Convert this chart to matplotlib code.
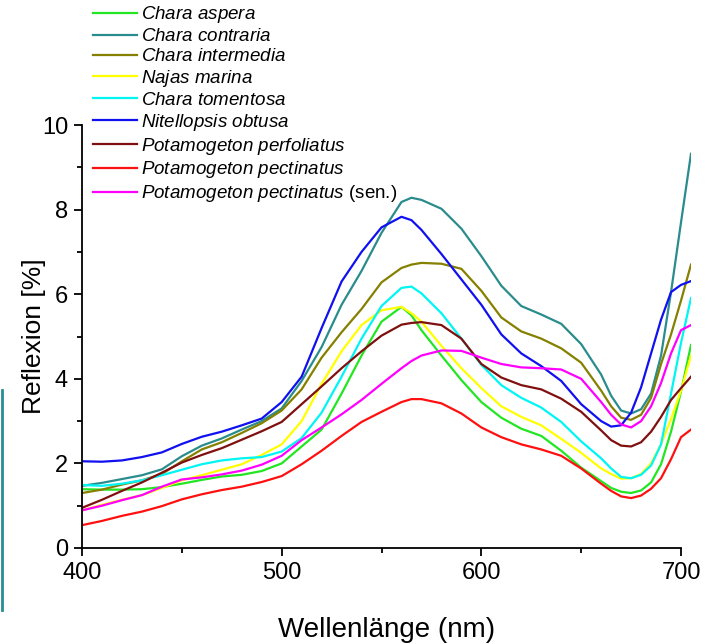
import matplotlib

matplotlib.use("Agg")
import matplotlib.pyplot as plt
from matplotlib.lines import Line2D
from matplotlib.ticker import MultipleLocator

plt.rcParams["font.family"] = ["Liberation Sans", "DejaVu Sans"]
plt.rcParams["mathtext.fontset"] = "custom"
plt.rcParams["mathtext.rm"] = "Liberation Sans"
plt.rcParams["mathtext.it"] = "Liberation Sans:italic"

# wavelength grid (nm) and reflectance (%)
wl = [400, 410, 420, 430, 440, 450, 460, 470, 480, 490, 500, 510, 520, 530, 540,
      550, 560, 565, 570, 580, 590, 600, 610, 620, 630, 640, 650, 660, 665, 670,
      675, 680, 685, 690, 695, 700, 705]

chara_aspera = [1.39, 1.38, 1.38, 1.39, 1.44, 1.52, 1.61, 1.69, 1.73, 1.82, 2.00,
                2.40, 2.80, 3.65, 4.55, 5.35, 5.70, 5.50, 5.15, 4.55, 3.97, 3.45,
                3.08, 2.82, 2.65, 2.30, 1.90, 1.58, 1.42, 1.33, 1.30, 1.36, 1.55,
                1.98, 2.75, 3.70, 4.80]
chara_contraria = [1.47, 1.54, 1.63, 1.72, 1.86, 2.17, 2.42, 2.59, 2.80, 3.00, 3.30,
                   3.95, 4.75, 5.75, 6.55, 7.45, 8.18, 8.28, 8.23, 8.02, 7.55, 6.90,
                   6.20, 5.72, 5.52, 5.30, 4.82, 4.10, 3.60, 3.25, 3.18, 3.28, 3.65,
                   4.55, 6.05, 7.70, 9.32]
chara_intermedia = [1.30, 1.38, 1.50, 1.60, 1.75, 2.05, 2.33, 2.50, 2.72, 2.95, 3.25,
                    3.75, 4.50, 5.10, 5.65, 6.28, 6.62, 6.70, 6.74, 6.72, 6.60, 6.08,
                    5.45, 5.12, 4.95, 4.72, 4.38, 3.72, 3.35, 3.08, 3.03, 3.15, 3.55,
                    4.35, 5.05, 5.85, 6.70]
najas_marina = [0.89, 1.02, 1.14, 1.25, 1.42, 1.60, 1.72, 1.85, 1.98, 2.20, 2.45,
                3.00, 3.88, 4.65, 5.27, 5.62, 5.70, 5.55, 5.35, 4.78, 4.25, 3.78,
                3.35, 3.10, 2.90, 2.58, 2.25, 1.88, 1.75, 1.64, 1.65, 1.75, 2.00,
                2.45, 3.05, 3.72, 4.55]
chara_tomentosa = [1.49, 1.47, 1.52, 1.60, 1.72, 1.85, 1.98, 2.07, 2.12, 2.15, 2.28,
                   2.60, 3.20, 4.05, 4.95, 5.72, 6.15, 6.18, 6.02, 5.55, 4.95, 4.33,
                   3.85, 3.55, 3.32, 2.98, 2.52, 2.12, 1.88, 1.68, 1.65, 1.73, 1.95,
                   2.45, 3.65, 4.85, 5.91]
nitellopsis_obtusa = [2.05, 2.04, 2.07, 2.15, 2.26, 2.46, 2.63, 2.75, 2.90, 3.06, 3.45,
                      4.05, 5.20, 6.30, 7.00, 7.58, 7.83, 7.75, 7.52, 6.95, 6.35, 5.75,
                      5.05, 4.60, 4.30, 3.95, 3.40, 3.00, 2.87, 2.90, 3.20, 3.80, 4.60,
                      5.40, 6.05, 6.22, 6.31]
pot_perfoliatus = [0.95, 1.14, 1.35, 1.55, 1.78, 2.02, 2.20, 2.36, 2.56, 2.76, 2.98,
                   3.40, 3.82, 4.25, 4.65, 5.02, 5.28, 5.32, 5.34, 5.27, 4.95, 4.35,
                   4.03, 3.85, 3.75, 3.53, 3.22, 2.78, 2.55, 2.42, 2.40, 2.50, 2.75,
                   3.10, 3.50, 3.78, 4.05]
pot_pectinatus = [0.54, 0.64, 0.76, 0.86, 0.99, 1.15, 1.27, 1.37, 1.45, 1.56, 1.70,
                  1.98, 2.30, 2.65, 2.98, 3.22, 3.45, 3.52, 3.52, 3.42, 3.18, 2.85,
                  2.62, 2.45, 2.33, 2.18, 1.88, 1.52, 1.35, 1.22, 1.18, 1.24, 1.40,
                  1.65, 2.10, 2.62, 2.80]
pot_pectinatus_sen = [0.89, 1.00, 1.13, 1.25, 1.45, 1.62, 1.67, 1.74, 1.83, 1.97, 2.18,
                      2.55, 2.85, 3.16, 3.50, 3.88, 4.25, 4.42, 4.55, 4.67, 4.66, 4.50,
                      4.35, 4.27, 4.25, 4.22, 4.00, 3.45, 3.15, 2.92, 2.85, 3.00, 3.35,
                      3.90, 4.60, 5.15, 5.27]

series = [
    (r"$\it{Chara\ aspera}$", chara_aspera, "#22e622"),
    (r"$\it{Chara\ contraria}$", chara_contraria, "#2a8c8c"),
    (r"$\it{Chara\ intermedia}$", chara_intermedia, "#858000"),
    (r"$\it{Najas\ marina}$", najas_marina, "#ffff00"),
    (r"$\it{Chara\ tomentosa}$", chara_tomentosa, "#00f5f5"),
    (r"$\it{Nitellopsis\ obtusa}$", nitellopsis_obtusa, "#1010f0"),
    (r"$\it{Potamogeton\ perfoliatus}$", pot_perfoliatus, "#801010"),
    (r"$\it{Potamogeton\ pectinatus}$", pot_pectinatus, "#ff1010"),
    (r"$\it{Potamogeton\ pectinatus}$ (sen.)", pot_pectinatus_sen, "#ff00ff"),
]

fig = plt.figure(figsize=(7.05, 6.44), dpi=100)
ax = fig.add_axes([82 / 705, 96 / 644, 609 / 705, 423 / 644])

for label, vals, col in series:
    ax.plot(wl, vals, color=col, lw=1.6, label=label)

ax.set_xlim(400, 705)
ax.set_ylim(0, 10)
ax.spines["top"].set_visible(False)
ax.spines["right"].set_visible(False)
ax.spines["bottom"].set_bounds(400, 700)
ax.spines["left"].set_linewidth(1.3)
ax.spines["bottom"].set_linewidth(1.3)
ax.set_xticks([400, 500, 600, 700])
ax.xaxis.set_minor_locator(MultipleLocator(50))
ax.yaxis.set_major_locator(MultipleLocator(2))
ax.yaxis.set_minor_locator(MultipleLocator(1))
ax.tick_params(which="major", length=6, width=1.3, labelsize=17, pad=4)
ax.tick_params(which="minor", length=3.5, width=1.3)

ax.set_xlabel("Wellenlänge (nm)", fontsize=20, labelpad=24)
ax.set_ylabel("Reflexion [%]", fontsize=19, labelpad=-3)

ax.legend(loc="upper left", bbox_to_anchor=(84 / 705, 1 + 5 / 644),
          bbox_transform=fig.transFigure, frameon=False, fontsize=13.5,
          handlelength=2.3, handletextpad=0.25, labelspacing=0.15, borderpad=0)

# teal edge strip left over from the source crop
fig.add_artist(Line2D([1.5 / 705, 1.5 / 705], [1 - 390 / 644, 1 - 610 / 644],
                      transform=fig.transFigure, color="#2a8c96", lw=2))

fig.savefig("out.png", dpi=100)
